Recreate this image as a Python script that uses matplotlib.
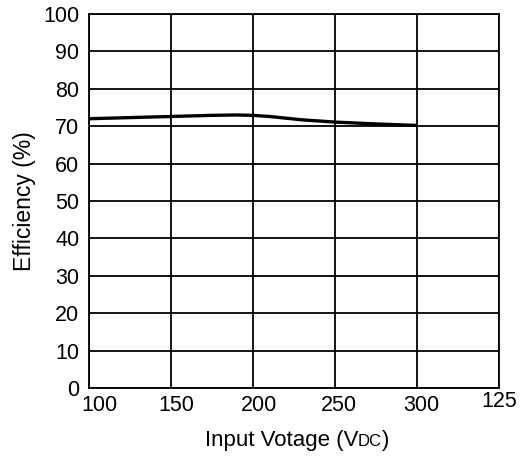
import matplotlib
matplotlib.use("Agg")
import matplotlib.pyplot as plt
import matplotlib.transforms as mtransforms

plt.rcParams['font.family'] = ['Liberation Sans', 'DejaVu Sans']

voltage = [100, 125, 150, 175, 190, 200, 210, 230, 250, 275, 300]
efficiency = [72.0, 72.3, 72.6, 72.9, 73.0, 72.9, 72.6, 71.7, 71.1, 70.6, 70.2]

x_tick_pos = [100, 150, 200, 250, 300, 350]
x_tick_labels = ["100", "150", "200", "250", "300", "125"]
y_ticks = [0, 10, 20, 30, 40, 50, 60, 70, 80, 90, 100]

fig = plt.figure(figsize=(5.22, 4.65), dpi=100)
ax = fig.add_axes([89/522, 77/465, 410/522, 374/465])

ax.plot(voltage, efficiency, color='black', lw=2.4, zorder=3, solid_capstyle='butt')

ax.set_xlim(100, 350)
ax.set_ylim(0, 100)
ax.set_xticks(x_tick_pos)
ax.set_xticklabels(x_tick_labels)
ax.set_yticks(y_ticks)
ax.grid(True, color='black', lw=1.3)
ax.tick_params(length=0, labelsize=15.5, colors='black', pad=5)
ax.tick_params(axis='y', pad=7)
for s in ax.spines.values():
    s.set_linewidth(1.3)
    s.set_color('black')

# per-label horizontal/vertical offsets (pixels)
offsets = [(10, 0), (5, 0), (6, 0), (4, 0), (4, 0), (0, 4)]
for lab, (dx, dy) in zip(ax.get_xticklabels(), offsets):
    lab.set_transform(lab.get_transform() + mtransforms.Affine2D().translate(dx, dy))

ax.set_ylabel("Efficiency (%)", fontsize=16.5, labelpad=5)

# x label with small-caps style "DC"
fig.canvas.draw()
r = fig.canvas.get_renderer()
parts = [("Input Votage (V", 16), ("DC", 12), (")", 16)]
texts = []
widths = []
for s, fs in parts:
    t = fig.text(0, 0, s, fontsize=fs, ha='left', va='baseline')
    texts.append(t)
    widths.append(t.get_window_extent(r).width)
total = sum(widths)
cx = 297
x0 = cx - total / 2
baseline = 465 - 446
for t, w in zip(texts, widths):
    t.set_position((x0 / 522, baseline / 465))
    x0 += w

fig.savefig("out.png", dpi=100, facecolor='white')
